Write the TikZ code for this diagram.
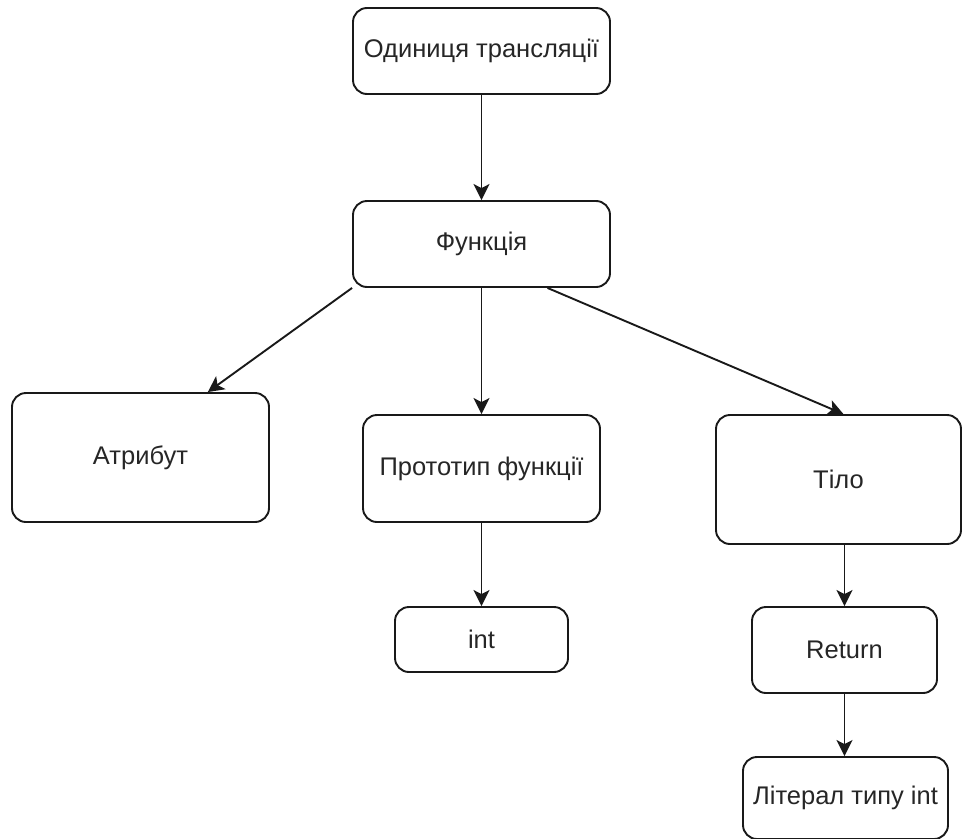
\documentclass[tikz,border=0pt]{standalone}
\usepackage{fontspec}
\setmainfont{Liberation Sans}
\usetikzlibrary{arrows.meta,calc}
\begin{document}
\begin{tikzpicture}[x=1pt,y=1pt,
  box/.style={draw=black!90, line width=1.9pt, rounded corners=14pt, fill=white,
    inner sep=0pt, align=center, text=black!85, font=\fontsize{25.5}{30}\selectfont},
  arr/.style={draw=black!90, line width=1.9pt, -{Stealth[length=16pt,width=16pt,inset=4pt]}}]
\useasboundingbox (0,0) rectangle (963,-838);
\node[box, minimum width=257pt, minimum height=86pt] (n1) at (481.5,-51) {Одиниця трансляції};
\node[box, minimum width=257pt, minimum height=86pt] (n2) at (481.5,-244) {Функція};
\node[box, minimum width=257pt, minimum height=129pt] (attr) at (140.5,-457.5) {Атрибут};
\node[box, minimum width=237pt, minimum height=107pt] (proto) at (481.5,-468.5) {Прототип функції};
\node[box, minimum width=173pt, minimum height=65pt] (int) at (481.5,-639.5) {int};
\node[box, minimum width=245pt, minimum height=129pt] (tilo) at (838.5,-479.5) {Тіло};
\node[box, minimum width=185pt, minimum height=86pt] (ret) at (844.5,-650) {Return};
\node[box, minimum width=205pt, minimum height=82pt] (lit) at (845.5,-798) {Літерал типу int};
\draw[arr] (n1.south) -- (n2.north);
\draw[arr] (n2.south) -- (proto.north);
\draw[arr] (n2.south west) -- ($(attr.north west)!0.76!(attr.north east)$);
\draw[arr] ($(n2.south west)!0.755!(n2.south east)$) -- ($(tilo.north west)!0.52!(tilo.north east)$);
\draw[arr] (proto.south) -- (int.north);
\draw[arr] (ret.north |- tilo.south) -- (ret.north);
\draw[arr] (ret.south) -- (ret.south |- lit.north);
\end{tikzpicture}
\end{document}
